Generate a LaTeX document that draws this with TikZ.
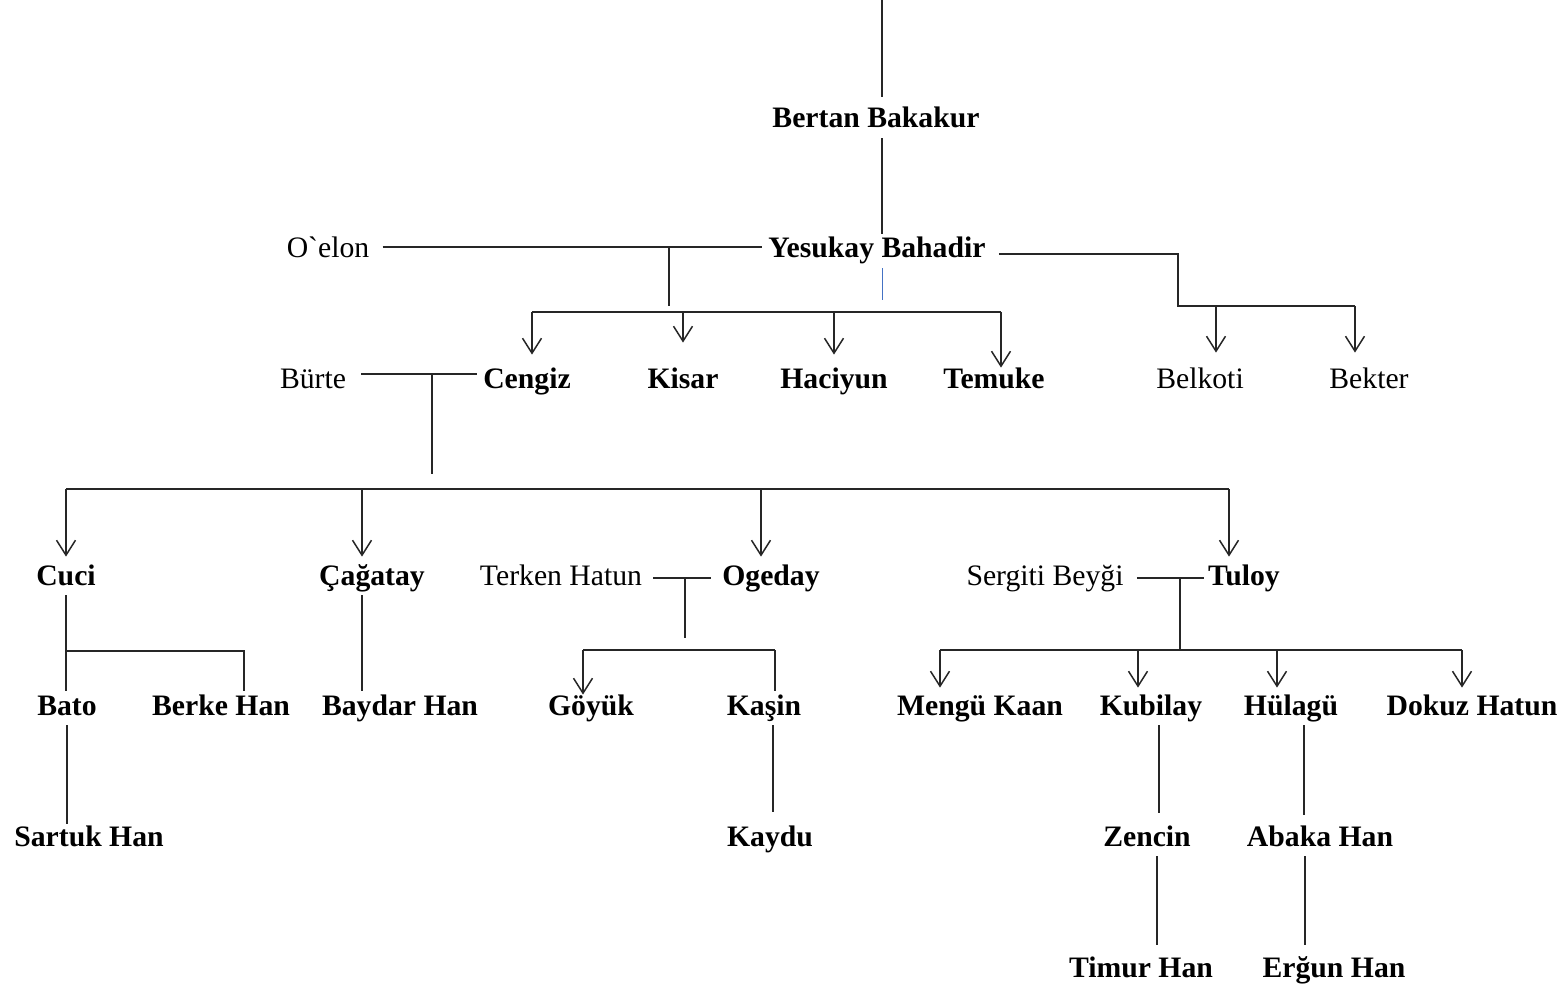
\documentclass[tikz,border=0pt]{standalone}
\usepackage{fontspec}
\setmainfont{Liberation Serif}
\usetikzlibrary{arrows.meta}
\definecolor{blueline}{RGB}{68,114,196}
\begin{document}
\begin{tikzpicture}[x=0.5pt,y=-0.5pt,
  n/.style={font=\fontsize{14.85pt}{17pt}\selectfont\bfseries, anchor=base, inner xsep=1pt, inner ysep=2pt, text height=10pt, text depth=3pt},
  sp/.style={n, font=\fontsize{14.85pt}{17pt}\selectfont},
  ln/.style={line width=0.75pt, draw=black!85},
  arr/.style={ln, -{Straight Barb[length=7.5pt,width=9.5pt]}}]
\useasboundingbox (0,0) rectangle (1568,989);

% row 1-2
\node[n] (bertan) at (876,128) {Bertan Bakakur};
\node[sp] (oelon) at (328,258) {O\textasciigrave elon};
\node[n] (yesukay) at (877,258) {Yesukay Bahadir};
% row 3
\node[sp] (burte) at (313,388) {Bürte};
\node[n] (cengiz) at (527,388) {Cengiz};
\node[n] (kisar) at (683,388) {Kisar};
\node[n] (haciyun) at (834,388) {Haciyun};
\node[n] (temuke) at (994,388) {Temuke};
\node[sp] (belkoti) at (1200,388) {Belkoti};
\node[sp] (bekter) at (1369,388) {Bekter};
% row 4
\node[n] (cuci) at (66,585) {Cuci};
\node[n] (cagatay) at (372,585) {Çağatay};
\node[sp] (terken) at (561,585) {Terken Hatun};
\node[n] (ogeday) at (771,585) {Ogeday};
\node[sp] (sergiti) at (1045,585) {Sergiti Beyği};
\node[n] (tuloy) at (1244,585) {Tuloy};
% row 5
\node[n] (bato) at (67,715) {Bato};
\node[n] (berke) at (221,715) {Berke Han};
\node[n] (baydar) at (400,715) {Baydar Han};
\node[n] (goyuk) at (591,715) {Göyük};
\node[n] (kasin) at (764,715) {Kaşin};
\node[n] (mengu) at (980,715) {Mengü Kaan};
\node[n] (kubilay) at (1151,715) {Kubilay};
\node[n] (hulagu) at (1291,715) {Hülagü};
\node[n] (dokuz) at (1472,715) {Dokuz Hatun};
% row 6
\node[n] (sartuk) at (89,846) {Sartuk Han};
\node[n] (kaydu) at (770,846) {Kaydu};
\node[n] (zencin) at (1147,846) {Zencin};
\node[n] (abaka) at (1320,846) {Abaka Han};
% row 7
\node[n] (timur) at (1141,977) {Timur Han};
\node[n] (ergun) at (1334,977) {Erğun Han};

% coordinates
\coordinate (top) at (882,0);
\coordinate (blueend) at (882,300);
\coordinate (oe) at ([yshift=2pt]oelon.east);
\coordinate (m1) at (669,306);
\coordinate (b1L) at (532,312);
\coordinate (b1R) at (1001,312);
\coordinate (ye) at ([xshift=5.5pt,yshift=-1.5pt]yesukay.east);
\coordinate (r1) at (1178,254);
\coordinate (b2L) at (1178,306);
\coordinate (b2R) at (1355,306);
\coordinate (dBel) at (1216,306);
\coordinate (bu) at ([yshift=3.5pt]burte.east);
\coordinate (m2) at (432,474);
\coordinate (b3L) at (66,489);
\coordinate (b3R) at (1229,489);
\coordinate (dCag) at (362,489);
\coordinate (dOge) at (761,489);
\coordinate (m3) at (685,638);
\coordinate (b4L) at (583,650);
\coordinate (b4R) at (775,650);
\coordinate (m4) at (1180,650);
\coordinate (b5L) at (940,650);
\coordinate (b5R) at (1462,650);
\coordinate (dKub) at (1138,650);
\coordinate (dHul) at (1277,650);
\coordinate (c1) at (66,651);
\coordinate (c2) at (244,651);
\coordinate (vKas) at (773,0);
\coordinate (vKub) at (1159,0);
\coordinate (vZen) at (1157,0);
\coordinate (vHul) at (1304,0);
\coordinate (vAba) at (1305,0);

% top generation
\draw[ln, shorten >=3.5pt] (top) -- (top |- bertan.north);
\draw[ln] (bertan.south -| top) -- (yesukay.north -| top);
\draw[draw=blueline, line width=0.5pt] (yesukay.south -| blueend) -- (blueend);

% Yesukay + O`elon
\draw[ln, shorten <=5.5pt, shorten >=2pt] (oe) -- (oe -| yesukay.west);
\draw[ln] (m1 |- oe) -- (m1);
\draw[ln] (b1L) -- (b1R);
\draw[arr, shorten >=4.5pt] (b1L) -- (b1L |- cengiz.north);
\draw[arr, shorten >=10.5pt] (kisar.north |- b1L) -- (kisar.north);
\draw[arr, shorten >=4.5pt] (haciyun.north |- b1L) -- (haciyun.north);
\draw[arr, shorten >=-2pt] (b1R) -- (b1R |- temuke.north);

% Yesukay right branch
\draw[ln] (ye) -- (r1) -- (b2L) -- (b2R);
\draw[arr, shorten >=5.5pt] (dBel) -- (dBel |- belkoti.north);
\draw[arr, shorten >=5.5pt] (b2R) -- (b2R |- bekter.north);

% Cengiz + Burte
\draw[ln, shorten <=6.5pt, shorten >=2pt] (bu) -- (bu -| cengiz.west);
\draw[ln] (m2 |- bu) -- (m2);
\draw[ln] (b3L) -- (b3R);
\draw[arr, shorten >=2pt] (b3L) -- (b3L |- cuci.north);
\draw[arr, shorten >=2pt] (dCag) -- (dCag |- cagatay.north);
\draw[arr, shorten >=2pt] (dOge) -- (dOge |- ogeday.north);
\draw[arr, shorten >=2pt] (b3R) -- (b3R |- tuloy.north);

% Cuci
\draw[ln] (cuci.south) -- (cuci.south |- bato.north);
\draw[ln] (c1) -- (c2) -- (c2 |- berke.north);
\draw[ln, shorten >=-1pt] (bato.south) -- (bato.south |- sartuk.north);

% Cagatay
\draw[ln] (dCag |- cagatay.south) -- (dCag |- baydar.north);

% Ogeday + Terken
\draw[ln, shorten <=4.5pt, shorten >=4.5pt] (terken.east) -- (ogeday.west);
\draw[ln] (m3 |- terken.east) -- (m3);
\draw[ln] (b4L) -- (b4R);
\draw[arr, shorten >=-2pt] (b4L) -- (b4L |- goyuk.north);
\draw[ln] (b4R) -- (b4R |- kasin.north);
\draw[ln, shorten >=5pt] (kasin.south -| vKas) -- (kaydu.north -| vKas);

% Tuloy + Sergiti
\draw[ln, shorten <=5.5pt] (sergiti.east) -- ([xshift=-1pt]tuloy.west);
\draw[ln] (m4 |- sergiti.east) -- (m4);
\draw[ln] (b5L) -- (b5R);
\draw[arr, shorten >=1.5pt] (b5L) -- (b5L |- mengu.north);
\draw[arr, shorten >=1.5pt] (dKub) -- (dKub |- kubilay.north);
\draw[arr, shorten >=1.5pt] (dHul) -- (dHul |- hulagu.north);
\draw[arr, shorten >=1.5pt] (b5R) -- (b5R |- dokuz.north);

% lower descents
\draw[ln, shorten >=4.5pt] (kubilay.south -| vKub) -- (zencin.north -| vKub);
\draw[ln, shorten >=4pt] (zencin.south -| vZen) -- (timur.north -| vZen);
\draw[ln, shorten >=3.5pt] (hulagu.south -| vHul) -- (abaka.north -| vHul);
\draw[ln, shorten >=4pt] (abaka.south -| vAba) -- (ergun.north -| vAba);
\end{tikzpicture}
\end{document}
